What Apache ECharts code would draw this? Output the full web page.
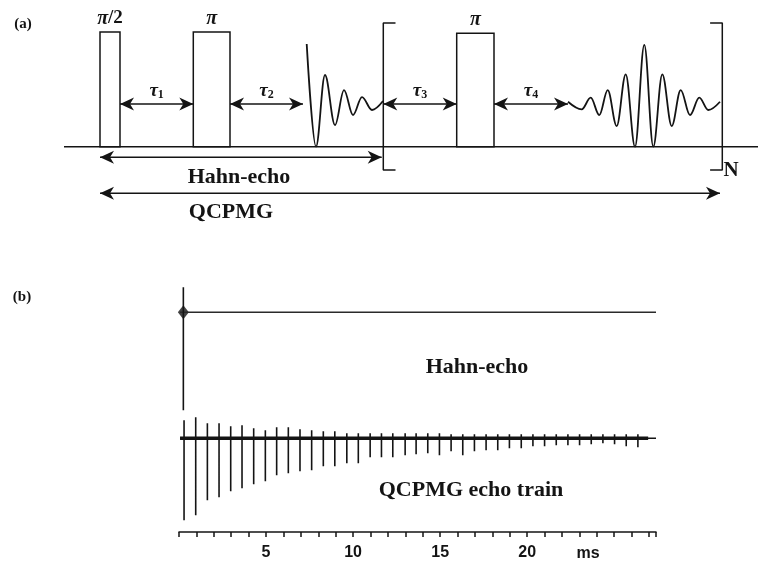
<!DOCTYPE html>
<html>
<head>
<meta charset="utf-8">
<script src="https://cdn.jsdelivr.net/npm/echarts@6/dist/echarts.min.js"></script>
<style>
  html, body { margin: 0; padding: 0; background: #fff; }
  #chart { width: 758px; height: 564px; }
</style>
</head>
<body>
<div id="chart"></div>
<script>
// ---------- (a) pulse sequence: schematic time units, amplitude relative to pulse height ----------
const pulseStart  = [0, 9.33, 35.67];
const pulseEnd    = [2.0, 13.0, 39.4];
const pulseHeight = [1, 1, 0.99];
const pulseNames  = ['{p|π}/2', '{p|π}', '{p|π}'];

const delayStart = [2.0, 13.0, 28.33, 39.4];
const delayEnd   = [9.33, 20.3, 35.67, 46.8];
const delayLevel = [0.372, 0.372, 0.372, 0.372];
const delayIndex = ['1', '2', '3', '4'];

const spanStart = [0, 0];
const spanEnd   = [28.17, 62.0];
const spanLevel = [-0.092, -0.406];

const baselineA = [-3.6, 65.8];

// free induction decay after the first pi pulse
const fidT = [20.67, 21.6, 22.5, 23.5, 24.4, 25.3, 26.2, 27.2, 28.3];
const fidA = [0.895, 0, 0.625, 0.189, 0.494, 0.276, 0.433, 0.32, 0.398];

// echo after the repeated pi pulse
const echoT = [46.8, 48.17, 49.07, 49.93, 50.77, 51.67, 52.57, 53.5, 54.43, 55.33, 56.23, 57.17, 58.07, 59.0, 59.93, 60.83, 62.0];
const echoA = [0.392, 0.326, 0.427, 0.276, 0.494, 0.18, 0.631, 0, 0.887, 0, 0.631, 0.18, 0.494, 0.276, 0.427, 0.32, 0.392];

// repeated block [ ... ]N
const blockLeft = 28.33, blockRight = 62.23, blockTop = 1.078, blockBottom = -0.203, blockTick = 1.22;

// ---------- (b) acquired time-domain signals, time in ms ----------
const timeMax = 27.4;
const tickLabels = [5, 10, 15, 20];

const hahnTime = 0.25;
const hahnMax = 25;
const hahnMin = -98;
const hahnBaseline = [0.06, 27.4];

const echoTimes = [0.29, 0.96, 1.63, 2.30, 2.97, 3.62, 4.29, 4.96, 5.61, 6.28,
                   6.95, 7.62, 8.29, 8.95, 9.64, 10.30, 10.98, 11.63, 12.28, 12.99,
                   13.62, 14.29, 14.96, 15.63, 16.30, 16.97, 17.64, 18.31, 18.98, 19.66,
                   20.33, 21.00, 21.67, 22.34, 23.01, 23.68, 24.35, 25.02, 25.69, 26.36];
const echoMin = [-82, -77, -62, -59, -53, -50, -46, -43, -37, -35,
                 -33, -32, -28, -28, -25, -25, -19, -19, -19, -17,
                 -16, -15, -17, -13, -17, -13, -12, -12, -10, -10,
                 -8, -8, -7, -7, -7, -6, -5, -6, -8, -9];
const echoMax = [18, 21, 15, 15, 12, 13, 10, 8, 11, 11,
                 9, 8, 7, 7, 5, 5, 5, 5, 5, 5,
                 5, 5, 5, 4, 4, 4, 4, 4, 4, 4,
                 4, 4, 4, 4, 4, 4, 4, 4, 4, 4];
const trainBand = [0.06, 26.95];

// ---------- drawing ----------
const INK = '#141414';
const SERIF = '"Liberation Serif", "Times New Roman", serif';
const SANS = '"Liberation Sans", Arial, sans-serif';

const pairs = (xs, ys) => xs.map((x, i) => [x, ys[i]]);

function arrowHead(p, dir) {
  const L = 14, W = 6.5, N = 10;
  return {
    type: 'polygon',
    shape: { points: [[p[0], p[1]], [p[0] - dir * L, p[1] - W], [p[0] - dir * N, p[1]], [p[0] - dir * L, p[1] + W]] },
    style: { fill: INK }
  };
}

function renderArrow(labels) {
  return function (params, api) {
    const y = api.value(2);
    const a = api.coord([api.value(0), y]);
    const b = api.coord([api.value(1), y]);
    const children = [
      { type: 'line', shape: { x1: a[0], y1: a[1], x2: b[0], y2: b[1] }, style: { stroke: INK, lineWidth: 1.4 } },
      arrowHead(a, -1),
      arrowHead(b, 1)
    ];
    if (labels) {
      children.push({
        type: 'text',
        x: (a[0] + b[0]) / 2,
        y: a[1] - 3,
        style: {
          text: '{t|τ}{s|' + labels[params.dataIndex] + '}',
          align: 'center',
          verticalAlign: 'bottom',
          fill: INK,
          rich: {
            t: { fontSize: 19, fontStyle: 'italic', fontWeight: 'bold', fontFamily: SERIF, lineHeight: 20, verticalAlign: 'middle', fill: INK },
            s: { fontSize: 12, fontWeight: 'bold', fontFamily: SERIF, lineHeight: 10, verticalAlign: 'bottom', fill: INK }
          }
        }
      });
    }
    return { type: 'group', children: children };
  };
}

const trainData = [[trainBand[0], 0]];
echoTimes.forEach((t, i) => {
  trainData.push([t, 0], [t, echoMax[i]], [t, echoMin[i]], [t, 0]);
});
trainData.push([timeMax, 0]);

const lineA = (data, width) => ({
  type: 'line', xAxisIndex: 0, yAxisIndex: 0, data: data, clip: false,
  symbol: 'none', silent: true, lineStyle: { color: INK, width: width }
});

const option = {
  animation: false,
  backgroundColor: '#fff',
  grid: [
    { left: 0, top: 32, width: 758, height: 114.7, outerBoundsMode: 'none' },
    { left: 179, top: 287.3, width: 477, height: 125, outerBoundsMode: 'none' },
    { left: 179, top: 413.3, width: 477, height: 118.7, outerBoundsMode: 'none' }
  ],
  xAxis: [
    { gridIndex: 0, type: 'value', min: -10, max: 65.8, show: false },
    { gridIndex: 1, type: 'value', min: 0, max: timeMax, show: false },
    {
      gridIndex: 2, type: 'value', min: 0, max: timeMax, interval: 1, position: 'bottom',
      axisLine: { show: true, onZero: false, lineStyle: { color: INK, width: 1.5 } },
      axisTick: { show: true, length: 5, lineStyle: { color: INK, width: 1.5 } },
      splitLine: { show: false },
      axisLabel: {
        margin: 13, color: INK, fontSize: 16, fontWeight: 'bold', fontFamily: SANS,
        formatter: v => tickLabels.some(t => Math.abs(t - v) < 1e-6) ? String(Math.round(v)) : ''
      }
    }
  ],
  yAxis: [
    { gridIndex: 0, type: 'value', min: 0, max: 1, show: false },
    { gridIndex: 1, type: 'value', min: -100, max: 25, show: false },
    { gridIndex: 2, type: 'value', min: -93.7, max: 25, show: false }
  ],
  series: [
    // (a) baseline, pulses, signals, brackets, delays
    lineA(baselineA.map(x => [x, 0]), 1.5),
    {
      type: 'custom', xAxisIndex: 0, yAxisIndex: 0, silent: true,
      data: pulseStart.map((s, i) => [s, pulseEnd[i], pulseHeight[i]]),
      renderItem(params, api) {
        const a = api.coord([api.value(0), 0]);
        const b = api.coord([api.value(1), api.value(2)]);
        return {
          type: 'rect',
          shape: { x: a[0], y: b[1], width: b[0] - a[0], height: a[1] - b[1] },
          style: { fill: 'none', stroke: INK, lineWidth: 1.5 },
          textContent: {
            style: {
              text: pulseNames[params.dataIndex], fill: INK,
              fontSize: 19, fontWeight: 'bold', fontFamily: SERIF,
              rich: { p: { fontSize: 20, fontStyle: 'italic', fontWeight: 'bold', fontFamily: SERIF, fill: INK } }
            }
          },
          textConfig: { position: 'top', distance: 1 }
        };
      }
    },
    Object.assign(lineA(pairs(fidT, fidA), 1.8), { smooth: 0.36, smoothMonotone: 'x' }),
    Object.assign(lineA(pairs(echoT, echoA), 1.8), { smooth: 0.36, smoothMonotone: 'x' }),
    lineA([[blockLeft + blockTick, blockTop], [blockLeft, blockTop], [blockLeft, blockBottom], [blockLeft + blockTick, blockBottom]], 1.5),
    lineA([[blockRight - blockTick, blockTop], [blockRight, blockTop], [blockRight, blockBottom], [blockRight - blockTick, blockBottom]], 1.5),
    {
      type: 'custom', xAxisIndex: 0, yAxisIndex: 0, silent: true,
      data: delayStart.map((s, i) => [s, delayEnd[i], delayLevel[i]]),
      renderItem: renderArrow(delayIndex)
    },
    {
      type: 'custom', xAxisIndex: 0, yAxisIndex: 0, silent: true,
      data: spanStart.map((s, i) => [s, spanEnd[i], spanLevel[i]]),
      renderItem: renderArrow(null)
    },
    // (b) Hahn-echo trace
    {
      type: 'line', xAxisIndex: 1, yAxisIndex: 1, symbol: 'none', silent: true, clip: false,
      data: hahnBaseline.map(x => [x, 0]),
      lineStyle: { color: '#2a2a2a', width: 1.4 }
    },
    {
      type: 'line', xAxisIndex: 1, yAxisIndex: 1, symbol: 'none', silent: true, clip: false,
      data: [[hahnTime, 0], [hahnTime, hahnMax], [hahnTime, hahnMin]],
      lineStyle: { color: INK, width: 1.6 }
    },
    {
      type: 'scatter', xAxisIndex: 1, yAxisIndex: 1, silent: true,
      data: [[hahnTime, 0]], symbol: 'diamond', symbolSize: [11, 14],
      itemStyle: { color: INK }
    },
    // (b) QCPMG echo train
    {
      type: 'line', xAxisIndex: 2, yAxisIndex: 2, symbol: 'none', silent: true, clip: false,
      data: trainBand.map(x => [x, 0]),
      lineStyle: { color: INK, width: 3.5 }
    },
    {
      type: 'line', xAxisIndex: 2, yAxisIndex: 2, symbol: 'none', silent: true, clip: false,
      data: trainData,
      lineStyle: { color: INK, width: 1.6 }
    }
  ],
  graphic: [
    { type: 'text', x: 23, y: 24, style: { text: '(a)', align: 'center', verticalAlign: 'middle', fill: INK, font: 'bold 15px ' + SERIF } },
    { type: 'text', x: 22, y: 297, style: { text: '(b)', align: 'center', verticalAlign: 'middle', fill: INK, font: 'bold 15px ' + SERIF } },
    { type: 'text', x: 239, y: 177, style: { text: 'Hahn-echo', align: 'center', verticalAlign: 'middle', fill: INK, font: 'bold 22px ' + SERIF } },
    { type: 'text', x: 231, y: 212, style: { text: 'QCPMG', align: 'center', verticalAlign: 'middle', fill: INK, font: 'bold 22px ' + SERIF } },
    { type: 'text', x: 731, y: 171, style: { text: 'N', align: 'center', verticalAlign: 'middle', fill: INK, font: 'bold 21px ' + SERIF } },
    { type: 'text', x: 477, y: 367, style: { text: 'Hahn-echo', align: 'center', verticalAlign: 'middle', fill: INK, font: 'bold 22px ' + SERIF } },
    { type: 'text', x: 471, y: 490, style: { text: 'QCPMG echo train', align: 'center', verticalAlign: 'middle', fill: INK, font: 'bold 22px ' + SERIF } },
    { type: 'text', x: 588, y: 554, style: { text: 'ms', align: 'center', verticalAlign: 'middle', fill: INK, font: 'bold 16px ' + SANS } }
  ]
};

const chart = echarts.init(document.getElementById('chart'), null, { renderer: 'canvas' });
chart.setOption(option);
</script>
</body>
</html>
